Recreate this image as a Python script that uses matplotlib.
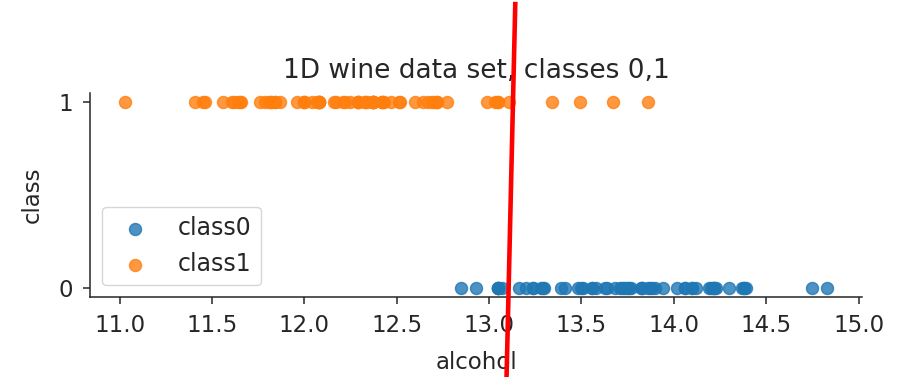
import matplotlib
matplotlib.use('Agg')
from matplotlib import pyplot as plt

# alcohol content of the first two wine classes
alcohol_class0 = [14.23, 13.2, 13.16, 14.37, 13.24, 14.2, 14.39, 14.06, 14.83, 13.86,
                  14.1, 14.12, 13.75, 14.75, 14.38, 13.63, 14.3, 13.83, 14.19, 13.64,
                  14.06, 12.93, 13.71, 12.85, 13.5, 13.05, 13.39, 13.3, 13.87, 14.02,
                  13.73, 13.58, 13.68, 13.76, 13.51, 13.48, 13.28, 13.05, 13.07, 14.22,
                  13.56, 13.41, 13.88, 13.24, 13.05, 14.21, 14.38, 13.9, 14.1, 13.94,
                  13.05, 13.83, 13.82, 13.77, 13.74, 13.56, 14.22, 13.29, 13.72]
alcohol_class1 = [12.37, 12.33, 12.64, 13.67, 12.37, 12.17, 12.37, 13.11, 12.37, 13.34,
                  12.21, 12.29, 13.86, 13.49, 12.99, 11.96, 11.66, 13.03, 11.84, 12.33,
                  12.7, 12.0, 12.72, 12.08, 13.05, 11.84, 12.67, 12.16, 11.65, 11.64,
                  12.08, 12.08, 12.0, 12.69, 12.29, 11.62, 12.47, 11.81, 12.29, 12.37,
                  12.29, 12.08, 12.6, 12.34, 11.82, 12.51, 12.42, 12.25, 12.72, 12.22,
                  11.61, 11.46, 12.52, 11.76, 11.41, 12.08, 11.03, 11.82, 12.42, 12.77,
                  12.0, 11.45, 11.56, 12.42, 13.05, 11.87, 12.07, 12.43, 11.79, 12.37,
                  12.04]

# hand-drawn split between the classes (data coords, runs past the axes)
boundary_x = [13.142, 13.095]
boundary_y = [1.53, -0.475]

if __name__ == '__main__':
    plt.rcParams.update({'font.size': 16.5,
                         'text.color': '0.15',
                         'axes.labelcolor': '0.15',
                         'xtick.color': '0.15',
                         'ytick.color': '0.15',
                         'axes.edgecolor': '0.15',
                         'axes.linewidth': 1.1})
    fig = plt.figure(figsize=(9, 3.77), dpi=100)
    ax = fig.add_axes([0.1, 0.212, 0.858, 0.541])

    ax.scatter(alcohol_class0, [0] * len(alcohol_class0), s=75, alpha=0.8,
               color='tab:blue', label='class0')
    ax.scatter(alcohol_class1, [1] * len(alcohol_class1), s=75, alpha=0.8,
               color='tab:orange', label='class1')

    ax.set_yticks([0, 1])
    ax.tick_params(length=5, width=1.1, pad=7)
    ax.set_xlabel('alcohol', labelpad=10)
    ax.set_ylabel('class', labelpad=11)
    ax.set_title('1D wine data set, classes 0,1', fontsize=19, pad=11)
    ax.spines['top'].set_visible(False)
    ax.spines['right'].set_visible(False)
    ax.legend(loc='lower left', fontsize=17, borderaxespad=0.5)

    ax.plot(boundary_x, boundary_y, color='red', lw=3.3, clip_on=False,
            scalex=False, scaley=False, zorder=5)

    fig.savefig('out.png')
